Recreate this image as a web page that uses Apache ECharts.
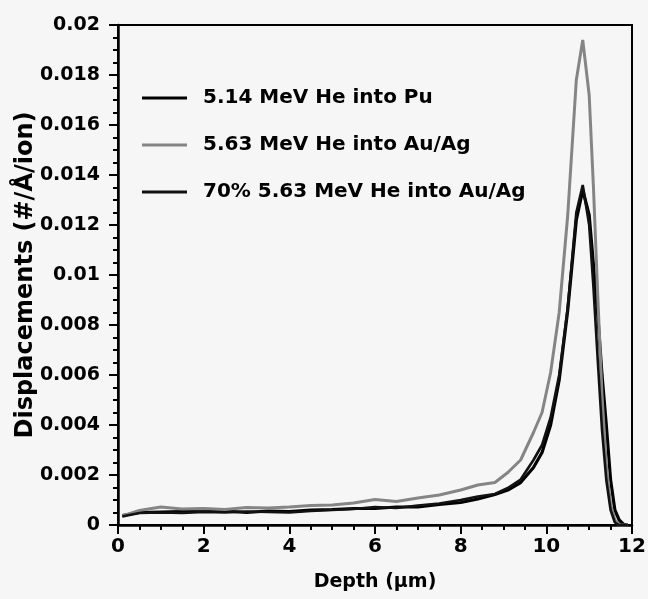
<!DOCTYPE html>
<html>
<head>
<meta charset="utf-8">
<script src="https://cdn.jsdelivr.net/npm/echarts@6/dist/echarts.min.js"></script>
<style>
  html, body { margin: 0; padding: 0; background: #f6f6f6; }
  #chart { width: 648px; height: 599px; }
</style>
</head>
<body>
<div id="chart"></div>
<script>
// depth (um) shared by the three curves
var depth = [0.1, 0.5, 1, 1.5, 2, 2.5, 3, 3.5, 4, 4.5, 5, 5.5, 6, 6.5, 7, 7.5, 8, 8.4, 8.8, 9.1,
  9.4, 9.7, 9.9, 10.1, 10.3, 10.5, 10.7, 10.85, 11, 11.1, 11.2, 11.3, 11.4, 11.5, 11.6, 11.7, 11.8, 11.9];

var puVals = [0.00038, 0.0005, 0.00052, 0.00054, 0.00054, 0.00056, 0.0005, 0.00056, 0.00054, 0.0006,
  0.00062, 0.00066, 0.00066, 0.00072, 0.00072, 0.00082, 0.0009, 0.00104, 0.00122, 0.0014,
  0.0017, 0.0023, 0.0029, 0.004, 0.0058, 0.0086, 0.0122, 0.0134, 0.0124, 0.0104,
  0.0084, 0.006, 0.004, 0.0018, 0.0006, 0.0002, 0.00003, 0];

var auVals = [0.00036, 0.00058, 0.00072, 0.00064, 0.00066, 0.00062, 0.0007, 0.00068, 0.00072, 0.00078,
  0.0008, 0.00088, 0.00102, 0.00094, 0.00108, 0.0012, 0.0014, 0.0016, 0.0017, 0.0021,
  0.0026, 0.0037, 0.0045, 0.0061, 0.0085, 0.0124, 0.0178, 0.0194, 0.0172, 0.0135,
  0.0092, 0.0052, 0.0024, 0.0008, 0.0002, 0, 0, 0];

var au70Vals = [0.00034, 0.00048, 0.0005, 0.00048, 0.00052, 0.0005, 0.00054, 0.00052, 0.0005, 0.00056,
  0.0006, 0.00064, 0.00072, 0.00068, 0.00078, 0.00086, 0.001, 0.00114, 0.00124, 0.00148,
  0.00182, 0.0026, 0.0032, 0.0043, 0.006, 0.0087, 0.0125, 0.0136, 0.012, 0.0095,
  0.0066, 0.0038, 0.0018, 0.0006, 0.0001, 0, 0, 0];

var names = ['5.14 MeV He into Pu', '5.63 MeV He into Au/Ag', '70% 5.63 MeV He into Au/Ag'];

function pairs(xs, ys) {
  var out = [];
  for (var i = 0; i < xs.length; i++) out.push([xs[i], ys[i]]);
  return out;
}

var myChart = echarts.init(document.getElementById('chart'));
var font = 'DejaVu Sans';
var option = {
  backgroundColor: '#f6f6f6',
  animation: false,
  textStyle: { fontFamily: font, color: '#000' },
  grid: { left: 118, right: 16, top: 25, bottom: 74, outerBoundsMode: 'none',
    show: true, borderColor: '#000', borderWidth: 2, backgroundColor: 'transparent' },
  legend: {
    orient: 'vertical', left: 137, top: 81, itemGap: 23, itemWidth: 45, itemHeight: 3, icon: 'rect',
    data: names,
    textStyle: { fontFamily: font, fontWeight: 'bold', fontSize: 20, lineHeight: 24, color: '#000', padding: [0, 0, 0, 11] }
  },
  xAxis: {
    type: 'value', min: 0, max: 12, interval: 2,
    name: 'Depth (\u00b5m)', nameLocation: 'middle', nameGap: 48, nameMoveOverlap: false,
    nameTextStyle: { fontFamily: font, fontWeight: 'bold', fontSize: 19, color: '#000' },
    axisLine: { lineStyle: { color: '#000', width: 2.5 } },
    axisTick: { length: 9, lineStyle: { color: '#000', width: 2 } },
    minorTick: { show: true, splitNumber: 4, length: 5, lineStyle: { color: '#000', width: 2 } },
    axisLabel: { fontFamily: font, fontWeight: 'bold', fontSize: 20, color: '#000', margin: 12 },
    splitLine: { show: false }
  },
  yAxis: {
    type: 'value', min: 0, max: 0.02, interval: 0.002,
    name: 'Displacements (#/\u00c5/ion)', nameLocation: 'middle', nameGap: 80, nameMoveOverlap: false,
    nameTextStyle: { fontFamily: font, fontWeight: 'bold', fontSize: 24, color: '#000' },
    axisLine: { lineStyle: { color: '#000', width: 2.5 } },
    axisTick: { length: 9, lineStyle: { color: '#000', width: 2 } },
    minorTick: { show: true, splitNumber: 4, length: 5, lineStyle: { color: '#000', width: 2 } },
    axisLabel: { fontFamily: font, fontWeight: 'bold', fontSize: 19, color: '#000', margin: 18,
      formatter: function (v) { return v === 0 ? '0' : String(+v.toFixed(3)); } },
    splitLine: { show: false }
  },
  series: [
    { name: names[0], type: 'line', symbol: 'none', data: pairs(depth, puVals),
      lineStyle: { color: '#000', width: 3.2 }, itemStyle: { color: '#000' } },
    { name: names[1], type: 'line', symbol: 'none', data: pairs(depth, auVals),
      lineStyle: { color: '#858585', width: 3 }, itemStyle: { color: '#858585' } },
    { name: names[2], type: 'line', symbol: 'none', data: pairs(depth, au70Vals),
      lineStyle: { color: '#111', width: 2.6 }, itemStyle: { color: '#111' } }
  ]
};
myChart.setOption(option);
</script>
</body>
</html>
